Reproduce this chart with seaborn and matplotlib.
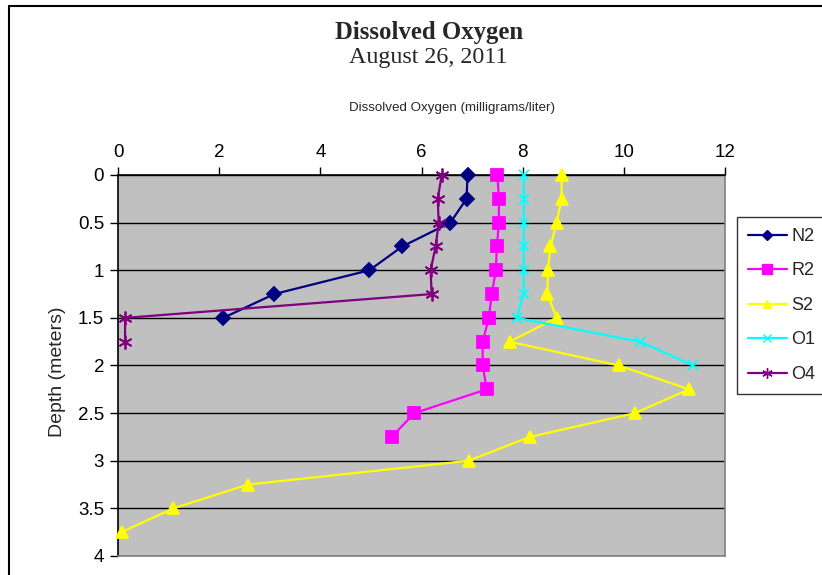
import matplotlib
matplotlib.use("Agg")
import matplotlib.pyplot as plt
from matplotlib.lines import Line2D
import seaborn as sns
import numpy as np

# ---- data ----
n2_depth = [0, 0.25, 0.5, 0.75, 1.0, 1.25, 1.5]
n2_do = [6.91, 6.89, 6.57, 5.62, 4.97, 3.09, 2.08]

r2_depth = [0, 0.25, 0.5, 0.75, 1.0, 1.25, 1.5, 1.75, 2.0, 2.25, 2.5, 2.75]
r2_do = [7.50, 7.53, 7.53, 7.49, 7.47, 7.39, 7.33, 7.21, 7.21, 7.29, 5.86, 5.41]

s2_depth = [0, 0.25, 0.5, 0.75, 1.0, 1.25, 1.5, 1.75, 2.0, 2.25, 2.5, 2.75,
            3.0, 3.25, 3.5, 3.75]
s2_do = [8.77, 8.77, 8.67, 8.55, 8.50, 8.49, 8.67, 7.74, 9.90, 11.29, 10.22,
         8.14, 6.93, 2.57, 1.09, 0.07]

o1_depth = [0, 0.25, 0.5, 0.75, 1.0, 1.25, 1.5, 1.75, 2.0]
o1_do = [8.02, 8.02, 8.02, 8.02, 8.02, 8.02, 7.88, 10.32, 11.37]

o4_depth = [0, 0.25, 0.5, 0.75, 1.0, 1.25, 1.5, 1.75]
o4_do = [6.40, 6.32, 6.34, 6.28, 6.18, 6.20, 0.14, 0.14]

x_ticks = [0, 2, 4, 6, 8, 10, 12]
y_ticks = [0, 0.5, 1, 1.5, 2, 2.5, 3, 3.5, 4]
y_tick_labels = ["0", "0.5", "1", "1.5", "2", "2.5", "3", "3.5", "4"]

sns.set_style("white")
plt.rcParams["font.family"] = ["Liberation Sans", "DejaVu Sans"]

W, H = 822, 575
fig = plt.figure(figsize=(W / 100, H / 100), dpi=100)
fig.patch.set_facecolor("white")

L, R, T, B = 118, 725, 175, 556
ax = fig.add_axes([L / W, 1 - B / H, (R - L) / W, (B - T) / H])
ax.set_facecolor("#C0C0C0")

star = (6, 2, 0)
series = [
    ("N2", n2_do, n2_depth, "#000080", "D", 7),
    ("R2", r2_do, r2_depth, "#FF00FF", "s", 9),
    ("S2", s2_do, s2_depth, "#FFFF00", "^", 8),
    ("O1", o1_do, o1_depth, "#00FFFF", "x", 7),
    ("O4", o4_do, o4_depth, "#800080", star, 10),
]
handles = []
for name, xs, ys, col, mk, ms in series:
    sns.lineplot(x=xs, y=ys, sort=False, orient="y", estimator=None, ax=ax,
                 color=col, linewidth=1.6,
                 marker=mk, markersize=ms, markeredgecolor=col,
                 markerfacecolor=col, markeredgewidth=1.3, label=name,
                 legend=False, zorder=3, clip_on=False)
    handles.append(Line2D([0], [0], color=col, lw=1.6, marker=mk,
                          markersize=ms * 0.75, markerfacecolor=col,
                          markeredgecolor=col, markeredgewidth=1.0))

ax.set_xlim(0, 12)
ax.set_ylim(4, 0)
ax.xaxis.tick_top()
ax.set_xticks(x_ticks)
ax.set_xticklabels([str(v) for v in x_ticks])
ax.set_yticks(y_ticks)
ax.set_yticklabels(y_tick_labels)
ax.tick_params(axis="both", labelsize=13.5, colors="black", length=6,
               width=1, direction="out", pad=4)
ax.tick_params(axis="x", top=True, bottom=False)
ax.tick_params(axis="y", left=True, right=False)
ax.set_xlabel("")
ax.set_ylabel("")
ax.yaxis.grid(True, color="black", linewidth=1.0)
ax.xaxis.grid(False)
ax.set_axisbelow(True)
for s in ["left", "top"]:
    ax.spines[s].set_color("black")
    ax.spines[s].set_linewidth(1.2)
    ax.spines[s].set_zorder(2)
for s in ["right", "bottom"]:
    ax.spines[s].set_color("#808080")
    ax.spines[s].set_linewidth(1.2)
    ax.spines[s].set_zorder(2)

# titles and labels
fig.text(429 / W, 1 - 32 / H, "Dissolved Oxygen", ha="center", va="center",
         fontsize=17.8, fontweight="bold", family=["Liberation Serif"])
fig.text(428 / W, 1 - 58 / H, "August 26, 2011", ha="center", va="center",
         fontsize=17.3, family=["Liberation Serif"])
fig.text(452 / W, 1 - 108 / H, "Dissolved Oxygen (milligrams/liter)",
         ha="center", va="center", fontsize=9.6)
fig.text(57 / W, 1 - 372 / H, "Depth (meters)", ha="center", va="center",
         rotation=90, fontsize=14)

leg = fig.legend(handles, [s[0] for s in series], loc="upper left",
                 bbox_to_anchor=(737 / W, 1 - 217 / H), frameon=True,
                 fancybox=False, edgecolor="black", fontsize=13,
                 handlelength=2.15, handletextpad=0.25, labelspacing=0.97,
                 borderpad=0.6, borderaxespad=0)
leg.get_frame().set_linewidth(1.0)

# chart-area border (left and top visible)
fig.add_artist(Line2D([9 / W, 9 / W], [0, 1 - 6 / H], color="black",
                      lw=1.5, transform=fig.transFigure))
fig.add_artist(Line2D([9 / W, 1], [1 - 6 / H, 1 - 6 / H], color="black",
                      lw=1.5, transform=fig.transFigure))

fig.savefig("out.png", dpi=100)
